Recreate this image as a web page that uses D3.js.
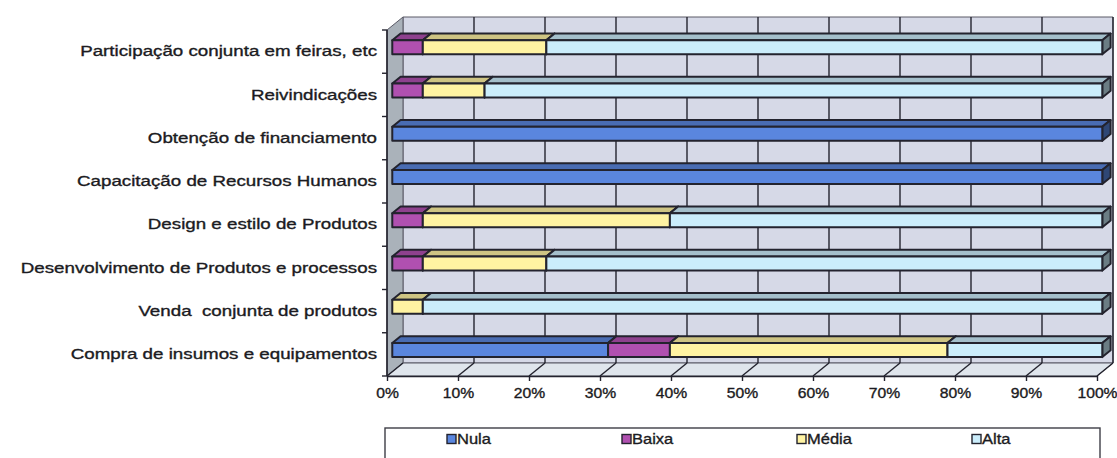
<!DOCTYPE html>
<html>
<head>
<meta charset="utf-8">
<script src="https://cdn.jsdelivr.net/npm/d3@7"></script>
<style>
  html, body { margin: 0; padding: 0; background: #ffffff; }
  svg { display: block; font-family: "Liberation Sans", Arial, sans-serif; }
  .lbl { fill: #1b1b22; stroke: #1b1b22; stroke-width: 0.35px; }
</style>
</head>
<body>
<svg id="chart" width="1117" height="458"></svg>
<script>
// Importance of cooperation activities (share of firms, %)
const categories = [
  "Participação conjunta em feiras, etc",
  "Reivindicações",
  "Obtenção de financiamento",
  "Capacitação de Recursos Humanos",
  "Design e estilo de Produtos",
  "Desenvolvimento de Produtos e processos",
  "Venda  conjunta de produtos",
  "Compra de insumos e equipamentos"
];
const seriesNames = ["Nula", "Baixa", "Média", "Alta"];
const nula  = [0,    0,    100, 100, 0,    0,    0,    30.4];
const baixa = [4.3,  4.3,  0,   0,   4.3,  4.3,  0,    8.7];
const media = [17.4, 8.7,  0,   0,   34.8, 17.4, 4.3,  39.1];
const alta  = [78.3, 87.0, 0,   0,   60.9, 78.3, 95.7, 21.8];
const tickValues = [0, 10, 20, 30, 40, 50, 60, 70, 80, 90, 100];
const seriesColors = ["#5a86de", "#b050b0", "#fff3a2", "#cbedfb"];

const rows = categories.map((c, i) => ({
  category: c, Nula: nula[i], Baixa: baixa[i], "Média": media[i], Alta: alta[i]
}));
const stacked = d3.stack().keys(seriesNames)(rows);

const svg = d3.select("#chart");
const ink = "#23232e";

// front plane scales
const x = d3.scaleLinear().domain([0, 100]).range([387, 1097]);
const y = d3.scaleBand().domain(categories).range([30, 376])
  .paddingInner(0.676).paddingOuter(0.338);
const color = d3.scaleOrdinal().domain(seriesNames).range(seriesColors);

// depth vector of the 3-D box, and bar position within the depth
const D = { x: 16, y: -13 };
const f0 = 0.33, f1 = 0.85;
const off = f => [D.x * f, D.y * f];

const yTop = y.range()[0], yBot = y.range()[1];
const x0 = x(0), x1 = x(100);

// walls and floor
svg.append("polygon")
  .attr("points", [[x0 + D.x, yTop + D.y], [x1 + D.x, yTop + D.y], [x1 + D.x, yBot + D.y], [x0 + D.x, yBot + D.y]].join(" "))
  .attr("fill", "#d6d9e7").attr("stroke", "#5a5a66").attr("stroke-width", 1);
svg.append("polygon")
  .attr("points", [[x0, yTop], [x0 + D.x, yTop + D.y], [x0 + D.x, yBot + D.y], [x0, yBot]].join(" "))
  .attr("fill", "#aab2ba").attr("stroke", "#5a5a66").attr("stroke-width", 1);
svg.append("polygon")
  .attr("points", [[x0, yBot], [x0 + D.x, yBot + D.y], [x1 + D.x, yBot + D.y], [x1, yBot]].join(" "))
  .attr("fill", "#dfe5ec").attr("stroke", "#5a5a66").attr("stroke-width", 1);

// gridlines: back wall verticals and floor diagonals
const grid = svg.append("g").attr("stroke", ink).attr("stroke-width", 1.4);
grid.selectAll("line.back").data(tickValues.slice(1)).join("line")
  .attr("class", "back")
  .attr("x1", d => x(d) + D.x).attr("x2", d => x(d) + D.x)
  .attr("y1", yTop + D.y).attr("y2", yBot + D.y);
grid.selectAll("line.floor").data(tickValues).join("line")
  .attr("class", "floor")
  .attr("x1", d => x(d)).attr("x2", d => x(d) + D.x)
  .attr("y1", yBot).attr("y2", yBot + D.y);

// 3-D bar segments
const [ax, ay] = off(f0), [bx, by] = off(f1);
const bars = svg.append("g");
rows.forEach((row, i) => {
  const yb = y(row.category), h = y.bandwidth();
  stacked.forEach(s => {
    const seg = s[i];
    if (seg[1] - seg[0] <= 0) return;
    const xa = x(seg[0]), xb = x(seg[1]);
    const c = d3.color(color(s.key));
    const g = bars.append("g").attr("stroke", ink).attr("stroke-width", 2).attr("stroke-linejoin", "round");
    // top face
    g.append("polygon")
      .attr("points", [[xa + ax, yb + ay], [xb + ax, yb + ay], [xb + bx, yb + by], [xa + bx, yb + by]].join(" "))
      .attr("fill", c.darker(0.6));
    // right face
    g.append("polygon")
      .attr("points", [[xb + ax, yb + ay], [xb + bx, yb + by], [xb + bx, yb + h + by], [xb + ax, yb + h + ay]].join(" "))
      .attr("fill", c.darker(1.8));
    // front face
    g.append("rect")
      .attr("x", xa + ax).attr("y", yb + ay)
      .attr("width", xb - xa).attr("height", h)
      .attr("fill", c);
  });
});

// value axis along the front edge of the floor
const sxTick = 1.12;
const xAxis = svg.append("g").attr("transform", `translate(0,${yBot})`)
  .call(d3.axisBottom(x).tickValues(tickValues).tickFormat(d => d + "%").tickSize(5).tickSizeOuter(0).tickPadding(7));
xAxis.select(".domain").attr("stroke", ink).attr("stroke-width", 1.4);
xAxis.selectAll(".tick line").attr("stroke", ink).attr("stroke-width", 1.4);
xAxis.selectAll(".tick text")
  .attr("class", "lbl")
  .attr("font-size", 14)
  .attr("transform", `scale(${sxTick},1)`);

// category axis on the left wall
const yAxisLine = svg.append("g");
yAxisLine.append("line").attr("x1", x0).attr("x2", x0).attr("y1", yTop).attr("y2", yBot)
  .attr("stroke", ink).attr("stroke-width", 1.6);
const bounds = categories.map(c => y(c) - y.step() * y.paddingOuter()).concat([yBot]);
yAxisLine.selectAll("line.tk").data(bounds).join("line").attr("class", "tk")
  .attr("x1", x0 - 5).attr("x2", x0).attr("y1", d => d).attr("y2", d => d)
  .attr("stroke", ink).attr("stroke-width", 1.4);

const sxLab = 1.25;
const yAxis = svg.append("g").attr("transform", `translate(${x0},0)`)
  .call(d3.axisLeft(y).tickSize(0).tickPadding(0));
yAxis.select(".domain").remove();
yAxis.selectAll(".tick text")
  .attr("class", "lbl")
  .attr("font-size", 15)
  .attr("x", -10 / sxLab)
  .attr("transform", `scale(${sxLab},1)`)
  .style("white-space", "pre");

// legend
const legend = svg.append("g");
legend.append("rect").attr("x", 385).attr("y", 428).attr("width", 715).attr("height", 40)
  .attr("fill", "#ffffff").attr("stroke", "#3e3e46").attr("stroke-width", 1.4);
const lx = d3.scalePoint().domain(seriesNames).range([447, 972]);
const items = legend.selectAll("g.item").data(seriesNames).join("g").attr("class", "item")
  .attr("transform", d => `translate(${lx(d)},439)`);
items.append("rect").attr("x", 0).attr("y", -4.5).attr("width", 9).attr("height", 9)
  .attr("fill", d => color(d)).attr("stroke", ink).attr("stroke-width", 1.4);
items.append("text").attr("class", "lbl").attr("x", 10 / 1.1).attr("y", 0).attr("dy", "0.35em")
  .attr("font-size", 15)
  .attr("transform", "scale(1.1,1)")
  .text(d => d);
</script>
</body>
</html>
